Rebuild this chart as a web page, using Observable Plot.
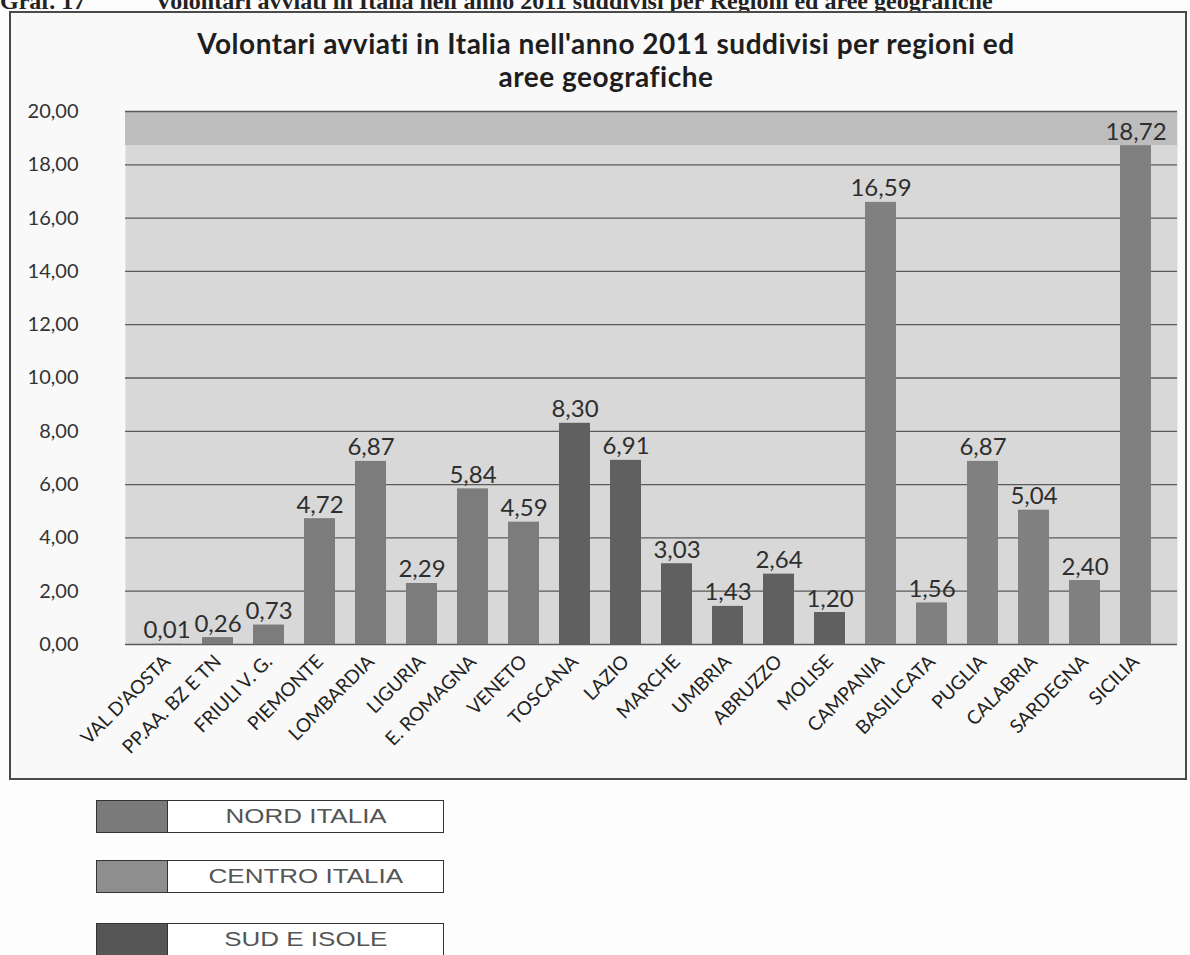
<!DOCTYPE html>
<html>
<head>
<meta charset="utf-8">
<script src="https://cdn.jsdelivr.net/npm/d3@7"></script>
<script src="https://cdn.jsdelivr.net/npm/@observablehq/plot@0.6"></script>
<style>
  html, body { margin: 0; padding: 0; background: #fdfdfd; width: 1190px; height: 955px; overflow: hidden; }
  #page { position: relative; width: 1190px; height: 955px; }
  #header { position: absolute; left: 0; top: -12px; font-family: "Liberation Serif", serif; font-weight: bold; font-size: 24px; color: #222; white-space: nowrap; }
  #header .t { position: absolute; left: 155px; top: 0; }
  #box { position: absolute; left: 9px; top: 11px; width: 1174px; height: 765px; border: 2px solid #4a4a4a; background: #f9f9f9; }
  #title { position: absolute; left: 0; top: 27px; width: 1212px; text-align: center; font-family: Lato, "Open Sans", sans-serif; font-weight: bold; font-size: 28px; letter-spacing: 0.5px; line-height: 33px; color: #1e1e1e; }
  #chart { position: absolute; left: 0; top: 0; }
  .leg { position: absolute; left: 96px; width: 346px; height: 31px; border: 1.5px solid #333; background: #fff; }
  .leg .sw { position: absolute; left: 0; top: 0; width: 70px; height: 31px; border-right: 1.5px solid #333; }
  .leg .tx { position: absolute; left: 72px; right: 0; top: 0; height: 31px; line-height: 31px; text-align: center; font-family: "Liberation Sans", Arial, sans-serif; font-size: 20px; color: #555; }
  .leg .tx span { display: inline-block; transform: scaleX(1.3); }
</style>
</head>
<body>
<div id="page">
  <div id="header"><span>Graf. 17</span><span class="t">Volontari avviati in Italia nell'anno 2011 suddivisi per Regioni ed aree geografiche</span></div>
  <div id="box"></div>
  <div id="title">Volontari avviati in Italia nell'anno 2011 suddivisi per regioni ed<br>aree geografiche</div>
  <div id="chart"></div>
  <div id="legend"></div>
</div>
<script>
// ---- data ----
const regioni = ["VAL D'AOSTA", "PP.AA. BZ E TN", "FRIULI V. G.", "PIEMONTE", "LOMBARDIA", "LIGURIA", "E. ROMAGNA", "VENETO",
  "TOSCANA", "LAZIO", "MARCHE", "UMBRIA", "ABRUZZO", "MOLISE",
  "CAMPANIA", "BASILICATA", "PUGLIA", "CALABRIA", "SARDEGNA", "SICILIA"];
const valori = [0.01, 0.26, 0.73, 4.72, 6.87, 2.29, 5.84, 4.59,
  8.30, 6.91, 3.03, 1.43, 2.64, 1.20,
  16.59, 1.56, 6.87, 5.04, 2.40, 18.72];
const aree = ["NORD ITALIA", "NORD ITALIA", "NORD ITALIA", "NORD ITALIA", "NORD ITALIA", "NORD ITALIA", "NORD ITALIA", "NORD ITALIA",
  "CENTRO ITALIA", "CENTRO ITALIA", "CENTRO ITALIA", "CENTRO ITALIA", "CENTRO ITALIA", "CENTRO ITALIA",
  "SUD E ISOLE", "SUD E ISOLE", "SUD E ISOLE", "SUD E ISOLE", "SUD E ISOLE", "SUD E ISOLE"];
const areeLegenda = ["NORD ITALIA", "CENTRO ITALIA", "SUD E ISOLE"];
const yTicks = [0, 2, 4, 6, 8, 10, 12, 14, 16, 18, 20];

// ---- styles ----
const barColors = ["#7c7c7c", "#606060", "#808080"];
const legendColors = ["#7a7a7a", "#8e8e8e", "#565656"];

const data = regioni.map((r, i) => ({regione: r, valore: valori[i], area: aree[i]}));
const fmt = v => d3.format(".2f")(v).replace(".", ",");
const font = "Lato, 'Open Sans', sans-serif";

const chart = Plot.plot({
  width: 1190,
  height: 780,
  marginLeft: 125,
  marginRight: 13,
  marginTop: 111,
  marginBottom: 136,
  style: {fontFamily: font, background: "transparent", color: "#333"},
  x: {domain: regioni, padding: 0.4, label: null},
  y: {domain: [0, 20], label: null},
  color: {domain: areeLegenda, range: barColors},
  marks: [
    Plot.frame({fill: "#d8d8d8", stroke: "none"}),
    Plot.rect([d3.max(valori)], {y1: d => d, y2: 20, fill: "#bdbdbd"}),
    Plot.ruleY(yTicks, {stroke: "#5a5a5a", strokeWidth: 1.3}),
    Plot.barY(data, {x: "regione", y: "valore", fill: "area"}),
    Plot.text(data, {x: "regione", y: "valore", text: d => fmt(d.valore), dy: -6, lineAnchor: "bottom", fontSize: 24, fill: "#2e2e2e"}),
    Plot.axisY(yTicks, {tickSize: 0, tickPadding: 47, tickFormat: fmt, fontSize: 20, fill: "#333", anchor: "left"}),
    Plot.axisX({tickSize: 0, tickPadding: 14, tickRotate: -45, fontSize: 19, fill: "#222"})
  ]
});
document.getElementById("chart").appendChild(chart);

// ---- legend (below the chart) ----
const legend = document.getElementById("legend");
const tops = [800, 860, 923];
areeLegenda.forEach((a, i) => {
  const d = document.createElement("div");
  d.className = "leg";
  d.style.top = tops[i] + "px";
  d.innerHTML = `<div class="sw" style="background:${legendColors[i]}"></div><div class="tx"><span>${a}</span></div>`;
  legend.appendChild(d);
});
</script>
</body>
</html>
